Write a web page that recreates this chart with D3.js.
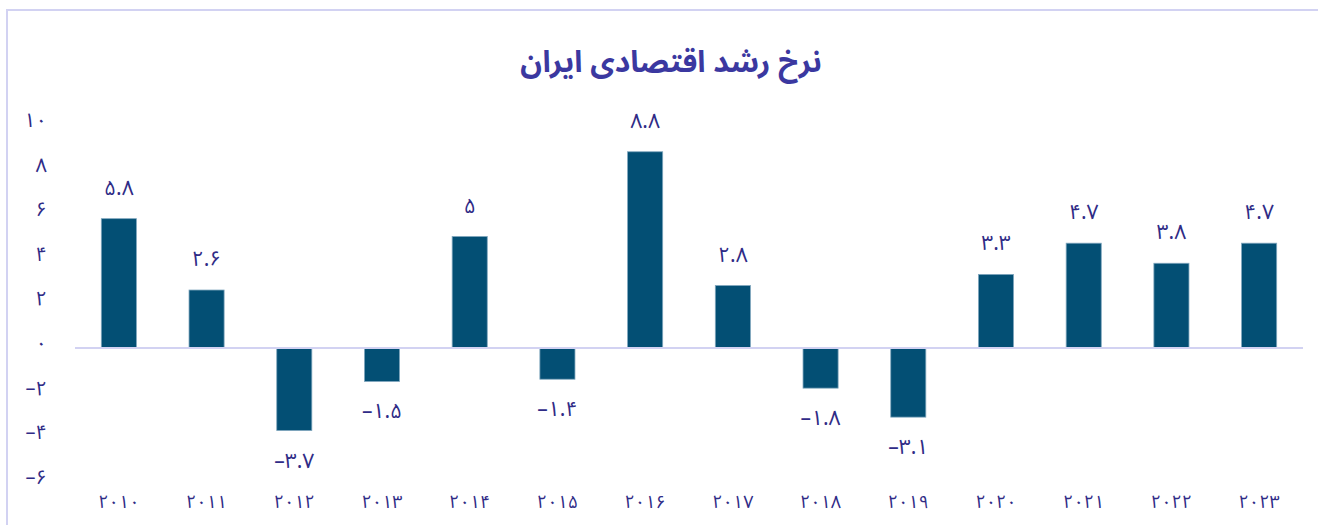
<!DOCTYPE html>
<html>
<head>
<meta charset="utf-8">
<script src="https://cdn.jsdelivr.net/npm/d3@7"></script>
<style>
  html, body { margin: 0; padding: 0; background: #fff; overflow: hidden; }
  svg { display: block; }
  text { font-family: "Noto Sans Arabic", "Noto Naskh Arabic", "DejaVu Sans Condensed", "DejaVu Sans", sans-serif; }
</style>
</head>
<body>
<svg id="chart" width="1318" height="525"></svg>
<script>
const title = "نرخ رشد اقتصادی ایران";
const years = [2010, 2011, 2012, 2013, 2014, 2015, 2016, 2017, 2018, 2019, 2020, 2021, 2022, 2023];
const growth = [5.8, 2.6, -3.7, -1.5, 5, -1.4, 8.8, 2.8, -1.8, -3.1, 3.3, 4.7, 3.8, 4.7];
const yTicks = [10, 8, 6, 4, 2, 0, -2, -4, -6];

const faDigits = "۰۱۲۳۴۵۶۷۸۹";
const toFa = v => String(v).replace(/\d/g, d => faDigits[+d]).replace("-", "–");

const svg = d3.select("#chart");
const W = 1318, H = 525;

// outer frame (right and bottom edges fall outside the picture)
svg.append("rect")
  .attr("x", 7).attr("y", 10)
  .attr("width", W + 40).attr("height", H + 40)
  .attr("fill", "none").attr("stroke", "#d2d2f2").attr("stroke-width", 2);

const x = d3.scaleBand().domain(years).range([75, 1303]).paddingInner(0.6).paddingOuter(0.3);
const y = d3.scaleLinear().domain([-6, 10]).range([481.8, 125]);

const textColor = "#2f2b86";

// title
svg.append("text")
  .attr("x", 671).attr("y", 62)
  .attr("text-anchor", "middle").attr("dominant-baseline", "central")
  .attr("font-size", 30).attr("font-weight", "bold")
  .attr("fill", "#3b38a0")
  .attr("direction", "rtl")
  .text(title);

// y axis labels (no line)
const yAxis = d3.axisLeft(y).tickValues(yTicks).tickSize(0).tickPadding(0).tickFormat(toFa);
const gy = svg.append("g").attr("transform", "translate(47,-5)").call(yAxis);
gy.select(".domain").remove();
gy.selectAll("text")
  .attr("font-size", 20).attr("fill", textColor)
  .attr("font-family", null).attr("direction", "ltr");

// bars
svg.append("g").selectAll("rect")
  .data(growth)
  .join("rect")
  .attr("x", (d, i) => x(years[i]))
  .attr("width", x.bandwidth())
  .attr("y", d => y(Math.max(0, d)))
  .attr("height", d => Math.abs(y(d) - y(0)))
  .attr("fill", "#034f74")
  .attr("stroke", "#7fa6bd").attr("stroke-width", 0.8);

// zero line
svg.append("line")
  .attr("x1", 75).attr("x2", 1303)
  .attr("y1", y(0)).attr("y2", y(0))
  .attr("stroke", "#d2d2f2").attr("stroke-width", 2);

// data labels
svg.append("g").selectAll("text")
  .data(growth)
  .join("text")
  .attr("x", (d, i) => x(years[i]) + x.bandwidth() / 2)
  .attr("y", d => d >= 0 ? y(d) - 31 : y(d) + 30)
  .attr("text-anchor", "middle").attr("dominant-baseline", "central")
  .attr("font-size", 21).attr("fill", textColor)
  .attr("direction", "ltr")
  .text(d => toFa(d));

// x axis labels
const xAxis = d3.axisBottom(x).tickSize(0).tickPadding(0).tickFormat(toFa);
const gx = svg.append("g").attr("transform", "translate(0,502)").call(xAxis);
gx.select(".domain").remove();
gx.selectAll("text")
  .attr("font-size", 18).attr("fill", textColor)
  .attr("font-family", null).attr("direction", "ltr")
  .attr("dy", null).attr("dominant-baseline", "central")
  .attr("letter-spacing", 3);
</script>
</body>
</html>
